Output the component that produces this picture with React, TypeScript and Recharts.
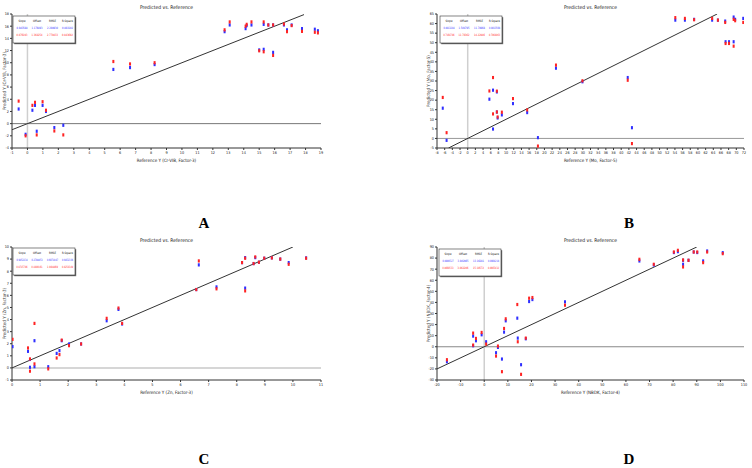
import React from "react";
import { ScatterChart, Scatter, XAxis, YAxis, ReferenceLine } from "recharts";

const BLUE = "#2f2fff";
const RED = "#ff2323";
const FONT = "'Liberation Sans Narrow', 'DejaVu Sans Condensed', 'Liberation Sans', sans-serif";

const STAT_HEADERS = ["Slope", "Offset", "RMSE", "R-Square"];

// ---- Panel A ----
const refA = [-0.57, -0.12, 0.32, 0.49, 0.6, 0.98, 1.2, 1.74, 2.32, 5.56, 6.64, 8.23, 12.76, 13.09, 14.12, 14.19, 14.5, 15.0, 15.29, 15.29, 15.59, 15.9, 15.9, 16.6, 16.8, 17.1, 17.77, 18.6, 18.8];
const calA = [2.4, -1.75, 2.2, 3.0, -1.25, 3.0, 2.0, -0.65, -0.27, 8.9, 9.2, 9.7, 15.1, 16.2, 15.6, 16.1, 16.2, 12.1, 16.3, 12.2, 16.2, 11.7, 16.2, 16.2, 15.4, 16.2, 15.6, 15.5, 15.25];
const valA = [3.7, -2.0, 3.0, 3.5, -1.85, 3.6, 2.2, -1.2, -1.85, 10.2, 9.8, 10.0, 15.4, 16.7, 16.0, 16.3, 16.7, 11.96, 16.7, 11.8, 16.2, 11.2, 16.2, 16.35, 15.1, 16.1, 15.15, 15.0, 14.9];
const fitA = [-1, 17.9];
const xTicksA = [-1, 0, 1, 2, 3, 4, 5, 6, 7, 8, 9, 10, 11, 12, 13, 14, 15, 16, 17, 18, 19];
const yTicksA = [-4, -2, 0, 2, 4, 6, 8, 10, 12, 14, 16, 18];
const statsCalA = ["0.883588", "1.176493", "2.208930", "0.883102"];
const statsValA = ["0.876193", "1.364254", "2.770433", "0.843692"];

// ---- Panel B ----
const refB = [-6.5, -5.5, 5.65, 6.6, 6.6, 7.6, 7.6, 7.8, 8.9, 11.8, 15.5, 18.3, 23, 29.9, 41.7, 42.8, 54.1, 56.6, 59, 63.7, 65.2, 67.1, 67.2, 68.1, 69.3, 69.3, 69.7, 71.8];
const calB = [15.8, -1.0, 20.5, 25.2, 4.9, 13.8, 24.3, 10.7, 12.3, 18.2, 13.5, 0.4, 36.7, 29.6, 31.8, 5.6, 61.8, 61.8, 62.2, 61.8, 61.8, 61.3, 50.5, 50.5, 63.4, 50.5, 62.2, 62.7];
const valB = [21.4, 3.0, 24.8, 31.8, 12.8, 13.8, 24.7, 11.2, 13.7, 20.8, 14.9, -4.0, 38.3, 30.1, 30.4, -2.7, 63.1, 62.7, 62.0, 62.7, 61.8, 60.6, 49.6, 49.6, 62.2, 48.2, 61.5, 60.6];
const fitB = [-5, 65];
const xTicksB = [-8, -6, -4, -2, 0, 2, 4, 6, 8, 10, 12, 14, 16, 18, 20, 22, 24, 26, 28, 30, 32, 34, 36, 38, 40, 42, 44, 46, 48, 50, 52, 54, 56, 58, 60, 62, 64, 66, 68, 70, 72];
const yTicksB = [-5, 0, 5, 10, 15, 20, 25, 30, 35, 40, 45, 50, 55, 60, 65];
const statsCalB = ["0.8013284", "1.504795", "11.70868", "0.8013568"];
const statsValB = ["0.7164786", "11.78362", "14.22946", "0.7064063"];

// ---- Panel C ----
const refC = [0.02, 0.57, 0.64, 0.64, 0.8, 0.8, 1.29, 1.59, 1.69, 1.77, 2.03, 2.46, 3.37, 3.79, 3.92, 6.56, 6.65, 7.28, 8.19, 8.3, 8.3, 8.6, 8.66, 8.79, 8.98, 9.25, 9.55, 9.85, 10.47];
const calC = [1.76, 1.37, 0.05, 0.7, 2.25, 0.1, 0.1, 1.2, 1.43, 2.25, 1.98, 1.98, 3.9, 4.84, 3.63, 6.48, 8.52, 6.7, 8.71, 9.12, 6.6, 8.63, 9.12, 8.74, 9.07, 9.1, 9.0, 8.71, 9.1];
const valC = [2.36, 1.65, -0.27, 0.74, 3.68, 0.33, -0.08, 0.82, 1.1, 2.3, 1.84, 1.98, 4.1, 4.95, 3.68, 6.48, 8.85, 6.54, 8.71, 9.07, 6.37, 8.63, 9.18, 8.74, 9.07, 9.1, 9.0, 8.57, 9.07];
const fitC = [0, 10];
const xTicksC = [0, 1, 2, 3, 4, 5, 6, 7, 8, 9, 10, 11];
const yTicksC = [-1, 0, 1, 2, 3, 4, 5, 6, 7, 8, 9, 10];
const statsCalC = ["0.9452234", "0.2788853", "0.6071047", "0.9452336"];
const statsValC = ["0.8715786", "0.4409161", "1.084469", "0.8254349"];

// ---- Panel D ----
const refD = [-15.8, -4.7, -4.7, -3.5, -1.1, 0.8, 5.0, 5.8, 7.5, 8.4, 9.1, 14.0, 14.2, 15.6, 17.6, 19.0, 20.4, 34.2, 65.7, 71.8, 80.3, 82, 84.2, 84.2, 86.5, 88.7, 90.2, 92.7, 94.4, 101];
const calD = [-13.5, 9.6, 0.9, 5.4, 10.8, 4.5, -5.4, -0.6, -11.1, 13.2, 23.4, 25.8, 7.8, -16.2, 7.2, 40.8, 42.6, 40.5, 77.4, 73.8, 85.0, 85.8, 74.4, 78.0, 78.0, 85.5, 85.0, 77.4, 86.4, 84.9];
const valD = [-11.7, 12.3, 1.5, 7.5, 12.9, 2.4, -8.4, 0.6, -22.5, 16.5, 25.2, 38.1, 4.5, -24.9, 7.8, 43.8, 44.4, 37.5, 78.9, 74.4, 85.5, 87.0, 72.0, 78.3, 78.0, 85.5, 85.5, 75.9, 85.5, 84.0];
const fitD = [-20, 90];
const xTicksD = [-20, -10, 0, 10, 20, 30, 40, 50, 60, 70, 80, 90, 100, 110];
const yTicksD = [-30, -20, -10, 0, 10, 20, 30, 40, 50, 60, 70, 80, 90];
const statsCalD = ["0.8900527", "3.802965", "13.16281", "0.8904218"];
const statsValD = ["0.8660533", "3.862206", "15.10572", "0.8665432"];

const W = 376;
const H = 234;
const AXW = 12;
const AXH = 10;

const toPts = (xs: number[], ys: number[]) => xs.map((x, i) => ({ x, y: ys[i] }));

const panels = [
  {
    key: "A", ox: 0, oy: 0, plot: { l: 12, t: 14, r: 321, b: 148 },
    ref: refA, cal: calA, val: valA, fit: fitA, xTicks: xTicksA, yTicks: yTicksA,
    statsCal: statsCalA, statsVal: statsValA, vline: true, hColor: "#777",
    xLabel: "Reference Y (Cr-VIB, Factor-3)", yLabel: "Predicted Y (Cr-VIB, Factor-3)",
    legend: { x: 13, y: 16 }, letterX: 204, letterY: 228, yLabelX: 6,
  },
  {
    key: "B", ox: 376, oy: 0, plot: { l: 61, t: 14, r: 368, b: 148 },
    ref: refB, cal: calB, val: valB, fit: fitB, xTicks: xTicksB, yTicks: yTicksB,
    statsCal: statsCalB, statsVal: statsValB, vline: true, hColor: "#999",
    xLabel: "Reference Y (Mo, Factor-5)", yLabel: "Predicted Y (Mo, Factor-5)",
    legend: { x: 64, y: 16 }, letterX: 253, letterY: 228, yLabelX: 54,
  },
  {
    key: "C", ox: 0, oy: 234, plot: { l: 12, t: 13, r: 321, b: 146 },
    ref: refC, cal: calC, val: valC, fit: fitC, xTicks: xTicksC, yTicks: yTicksC,
    statsCal: statsCalC, statsVal: statsValC, vline: false, hColor: "#c8c8c8",
    xLabel: "Reference Y (Zn, Factor-3)", yLabel: "Predicted Y (Zn, Factor-3)",
    legend: { x: 13, y: 14 }, letterX: 204, letterY: 230, yLabelX: 6,
  },
  {
    key: "D", ox: 376, oy: 234, plot: { l: 61, t: 13, r: 368, b: 146 },
    ref: refD, cal: calD, val: valD, fit: fitD, xTicks: xTicksD, yTicks: yTicksD,
    statsCal: statsCalD, statsVal: statsValD, vline: true, hColor: "#888",
    xLabel: "Reference Y (NBDK, Factor-4)", yLabel: "Predicted Y (NBDK, Factor-4)",
    legend: { x: 63, y: 15 }, letterX: 253, letterY: 230, yLabelX: 54,
  },
];

const marker = (color: string) => (p: any) =>
  <rect x={p.cx - 1} y={p.cy - 1.6} width={2} height={3.2} fill={color} />;

const tickStyle = { fontSize: 3.8, fill: "#222", fontFamily: FONT };
const COLS = [9, 24, 39.5, 54.5];
const HEAD_W = [7, 8, 7, 11];

function StatsBox({ x, y, cal, val }: { x: number; y: number; cal: string[]; val: string[] }) {
  return (
    <g transform={`translate(${x},${y})`} fontFamily={FONT} fontSize={3} textAnchor="middle">
      <rect x={1.2} y={1.2} width={62} height={27} fill="#666" />
      <rect x={0} y={0} width={62} height={27} fill="#fff" stroke="#333" strokeWidth={0.6} />
      {STAT_HEADERS.map((h, i) => (
        <text key={h} x={COLS[i]} y={5.5} fill="#111" textLength={HEAD_W[i]} lengthAdjust="spacingAndGlyphs">
          {h}
        </text>
      ))}
      {cal.map((v, i) => (
        <text key={"c" + i} x={COLS[i]} y={12.5} fill={BLUE} textLength={11} lengthAdjust="spacingAndGlyphs">
          {v}
        </text>
      ))}
      {val.map((v, i) => (
        <text key={"v" + i} x={COLS[i]} y={19.5} fill={RED} textLength={11} lengthAdjust="spacingAndGlyphs">
          {v}
        </text>
      ))}
    </g>
  );
}

function Panel({ cfg }: { cfg: (typeof panels)[number] }) {
  const { l, t, r, b } = cfg.plot;
  const xDomain = [cfg.xTicks[0], cfg.xTicks[cfg.xTicks.length - 1]];
  const yDomain = [cfg.yTicks[0], cfg.yTicks[cfg.yTicks.length - 1]];
  const cx = (l + r) / 2;
  const cy = (t + b) / 2;
  return (
    <div style={{ position: "absolute", left: cfg.ox, top: cfg.oy, width: W, height: H }}>
      <ScatterChart
        width={W}
        height={H}
        margin={{ top: t, right: W - r, bottom: H - b - AXH, left: l - AXW }}
      >
        <XAxis
          type="number"
          dataKey="x"
          domain={xDomain}
          ticks={cfg.xTicks}
          interval={0}
          allowDataOverflow
          tickSize={2}
          tickMargin={1}
          height={AXH}
          stroke="#333"
          tick={tickStyle}
        />
        <YAxis
          type="number"
          dataKey="y"
          domain={yDomain}
          ticks={cfg.yTicks}
          interval={0}
          allowDataOverflow
          tickSize={2}
          tickMargin={1}
          width={AXW}
          stroke="#333"
          tick={tickStyle}
        />
        <ReferenceLine y={0} stroke={cfg.hColor} strokeWidth={cfg.key === "C" ? 1.5 : 1} />
        {cfg.vline && <ReferenceLine x={0} stroke="#cfcfcf" strokeWidth={1.5} />}
        <Scatter
          data={toPts(cfg.fit, cfg.fit)}
          line={{ stroke: "#333", strokeWidth: 1 }}
          shape={() => <g />}
          isAnimationActive={false}
        />
        <Scatter data={toPts(cfg.ref, cfg.cal)} shape={marker(BLUE)} isAnimationActive={false} />
        <Scatter data={toPts(cfg.ref, cfg.val)} shape={marker(RED)} isAnimationActive={false} />
      </ScatterChart>
      <svg
        width={W}
        height={H}
        style={{ position: "absolute", left: 0, top: 0, pointerEvents: "none" }}
      >
        <text x={cx} y={t - 5} textAnchor="middle" fontFamily={FONT} fontSize={5} fill="#111">
          Predicted vs. Reference
        </text>
        <text x={cx} y={b + 14} textAnchor="middle" fontFamily={FONT} fontSize={4.5} fill="#222">
          {cfg.xLabel}
        </text>
        <text
          x={cfg.yLabelX}
          y={cy}
          textAnchor="middle"
          fontFamily={FONT}
          fontSize={4.5}
          fill="#444"
          transform={`rotate(-90 ${cfg.yLabelX} ${cy})`}
        >
          {cfg.yLabel}
        </text>
        <StatsBox x={cfg.legend.x} y={cfg.legend.y} cal={cfg.statsCal} val={cfg.statsVal} />
        <text
          x={cfg.letterX}
          y={cfg.letterY}
          textAnchor="middle"
          fontFamily="'Liberation Serif', 'Times New Roman', serif"
          fontWeight="bold"
          fontSize={15}
          fill="#000"
        >
          {cfg.key}
        </text>
      </svg>
    </div>
  );
}

export default function App() {
  return (
    <div style={{ position: "fixed", left: 0, top: 0, width: 752, height: 468, background: "#fff" }}>
      {panels.map((p) => (
        <Panel key={p.key} cfg={p} />
      ))}
    </div>
  );
}
